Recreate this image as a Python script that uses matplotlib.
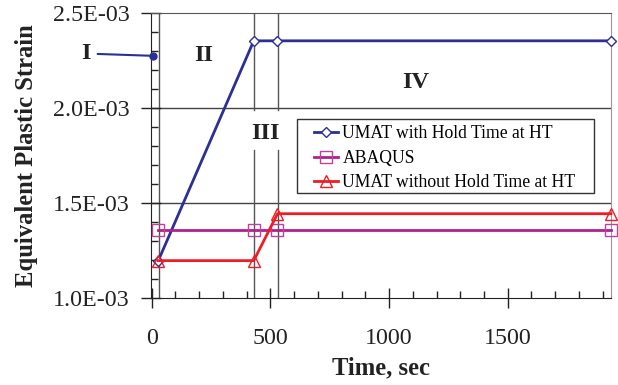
import matplotlib.pyplot as plt
from matplotlib.patches import Rectangle
from matplotlib.ticker import MultipleLocator, FuncFormatter

plt.rcParams['font.family'] = ['Liberation Serif', 'DejaVu Serif']

# data
time = [28, 430, 530, 1935]
with_hold = [1.195e-3, 2.352e-3, 2.352e-3, 2.352e-3]
abaqus = [1.356e-3, 1.356e-3, 1.356e-3, 1.356e-3]
without_hold = [1.195e-3, 1.195e-3, 1.442e-3, 1.442e-3]
labels = ['UMAT with Hold Time at HT', 'ABAQUS', 'UMAT without Hold Time at HT']
phase_times = [30, 430, 533]

fig = plt.figure(figsize=(6.18, 3.85), dpi=100)
ax = fig.add_axes([0.2439, 0.2268, 0.7448, 0.7402])

ax.set_xlim(-4, 1935)
ax.set_ylim(1.0e-3, 2.5e-3)

# grid lines and phase boundaries
for y in [1.5e-3, 2.0e-3]:
    ax.axhline(y, color='#444444', lw=1.0, zorder=1)
ax.axvline(phase_times[0], color='#555555', lw=1.0, zorder=1)
for t in phase_times[1:]:
    ax.plot([t, t], [1.0e-3, 1.775e-3], color='#555555', lw=1.0, zorder=1)
    ax.plot([t, t], [1.99e-3, 2.5e-3], color='#555555', lw=1.0, zorder=1)

ax.plot(time, with_hold, color='#2B2F96', lw=2, marker='D', ms=5.5,
        mfc='white', mec='#2B2F96', mew=1, label=labels[0], clip_on=False, zorder=3)
ax.plot(time, abaqus, color='#B0208F', lw=2, marker='s', ms=8,
        mfc='none', mec='#C040A0', mew=1, label=labels[1], clip_on=False, zorder=4)
ax.plot(time, without_hold, color='#EE1C25', lw=2, marker='^', ms=9,
        mfc='none', mec='#EE1C25', mew=1, label=labels[2], clip_on=False, zorder=5)

# phase labels
kw = dict(fontsize=17.5, fontweight='bold', color='#222222', ha='center', va='center')
ax.annotate('I', xy=(5, 2.273e-3), xytext=(-277, 2.285e-3), annotation_clip=False,
            arrowprops=dict(arrowstyle='-', color='#2B2F96', lw=1.5, shrinkA=3, shrinkB=0), **kw)
ax.plot([5], [2.273e-3], 'o', color='#2B2F96', ms=5, clip_on=False, zorder=6)
ax.text(220, 2.277e-3, 'II', **kw)
ax.text(477, 1.865e-3, 'III', **kw)
ax.text(1110, 2.134e-3, 'IV', **kw)

# axes styling
ax.spines['left'].set_color('#222222')
ax.spines['bottom'].set_color('#222222')
ax.spines['top'].set_color('#555555')
ax.spines['right'].set_color('#999999')

ax.xaxis.set_major_locator(MultipleLocator(500))
ax.xaxis.set_minor_locator(MultipleLocator(100))
ax.yaxis.set_major_locator(MultipleLocator(0.5e-3))
ax.yaxis.set_minor_locator(MultipleLocator(0.1e-3))
ax.yaxis.set_major_formatter(FuncFormatter(lambda v, p: '{:.1E}'.format(v)))
ax.tick_params(which='major', direction='inout', length=14, width=1, colors='#222222',
               labelsize=17.3)
ax.tick_params(which='minor', direction='in', length=5, width=1, colors='#222222')
ax.tick_params(axis='x', which='major', pad=15)
ax.tick_params(axis='y', which='major', pad=8)

ax.set_xlabel('Time, sec', fontsize=17.7, fontweight='bold', color='#222222', labelpad=5)
ax.set_ylabel('Equivalent Plastic Strain', fontsize=17.7, fontweight='bold',
              color='#222222', labelpad=11)

# legend with a hand-placed frame
ax.add_patch(Rectangle((0.318, 0.367), 0.645, 0.26, transform=ax.transAxes,
                       facecolor='white', edgecolor='#333333', lw=1, zorder=6))
leg = ax.legend(loc='upper left', bbox_to_anchor=(0.3548, 0.605), borderaxespad=0,
                borderpad=0, fontsize=12.7, frameon=False, handlelength=1.36,
                handletextpad=0.25, labelspacing=0.43)
leg.set_zorder(7)

fig.savefig('out.png', dpi=100)
